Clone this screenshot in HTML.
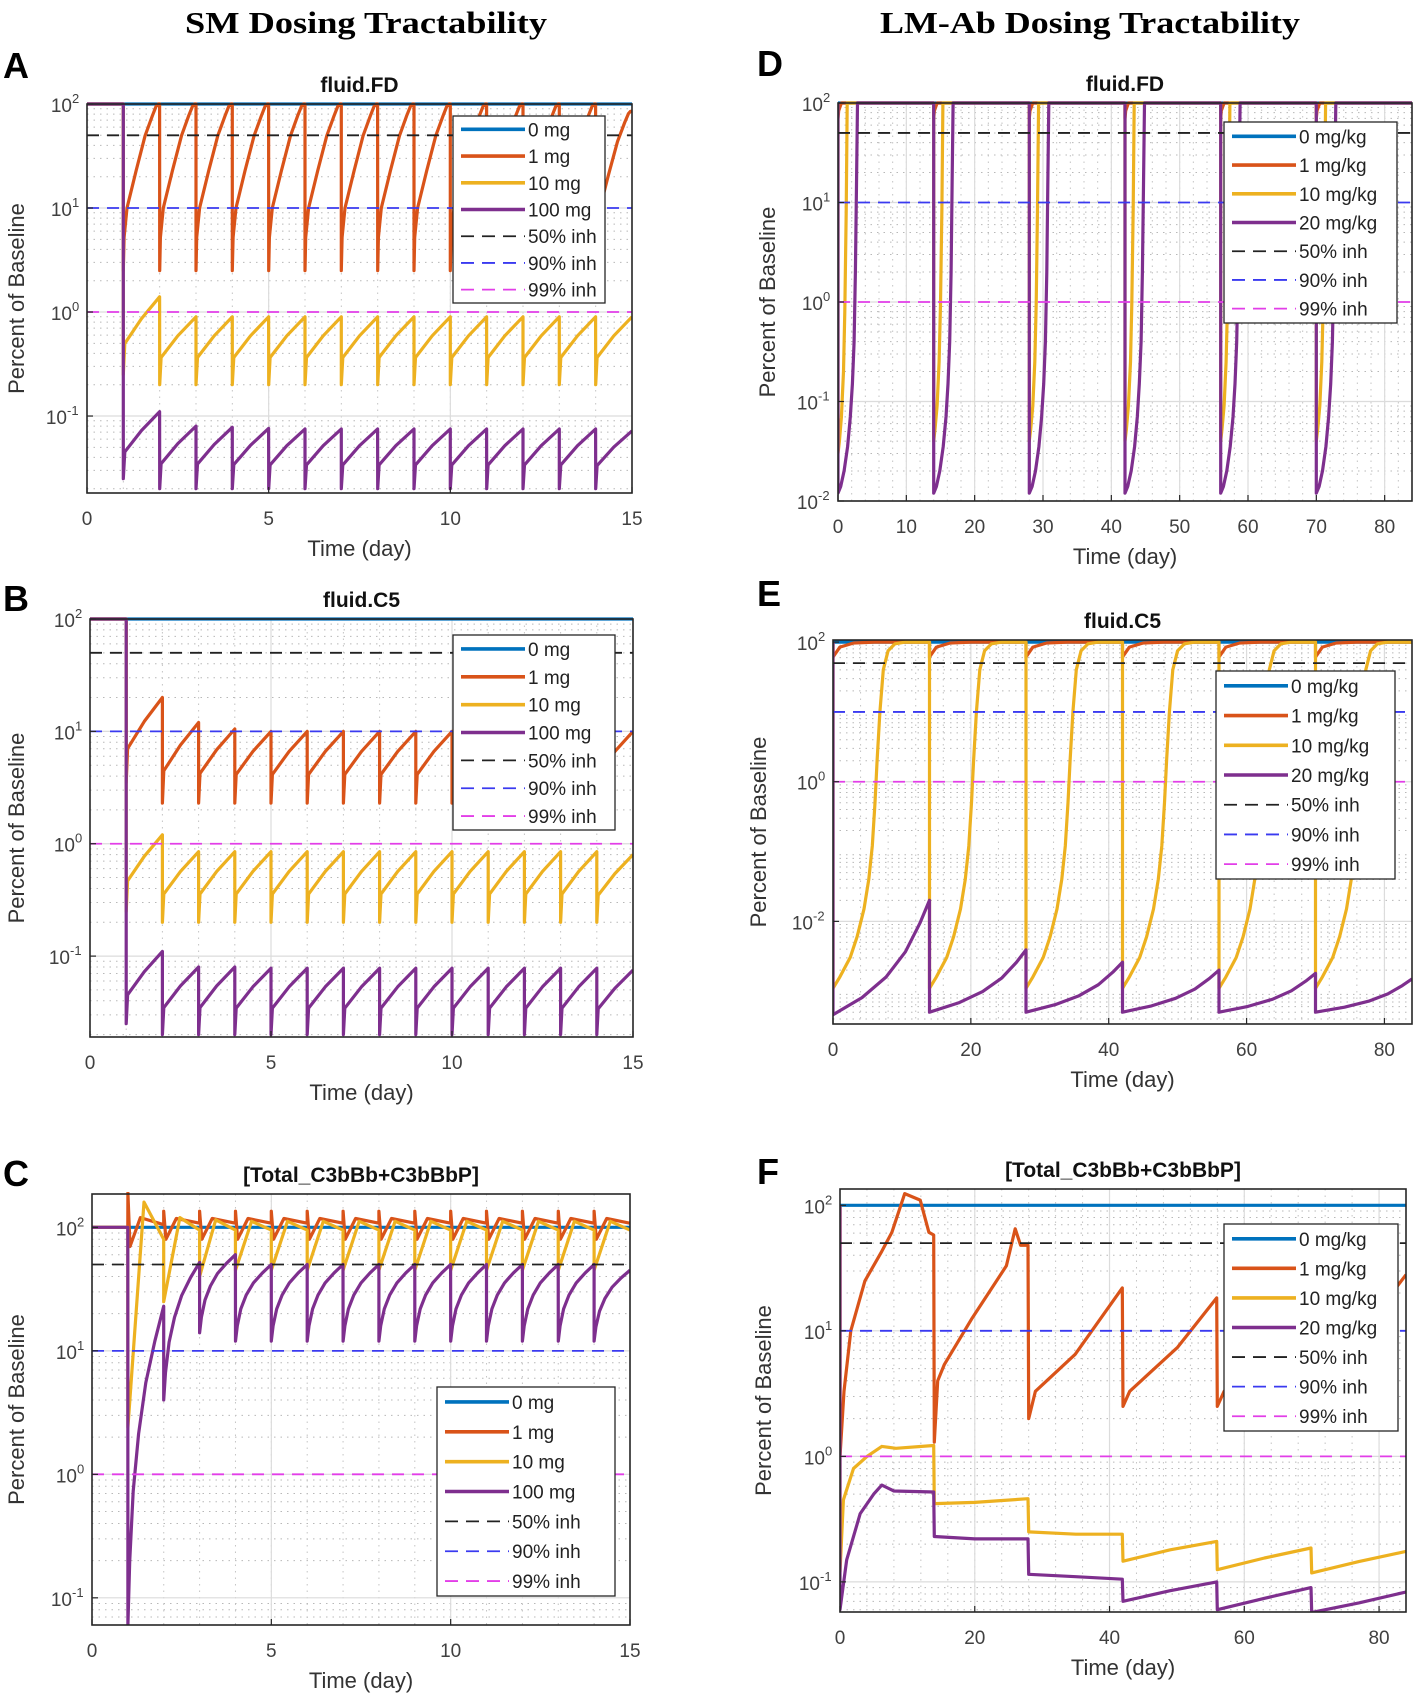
<!DOCTYPE html>
<html><head><meta charset="utf-8">
<style>
html,body{margin:0;padding:0;background:#fff;}
svg{display:block;}
text{font-family:"Liberation Sans",Arial,sans-serif;}
</style></head>
<body>
<svg id="fig" xmlns="http://www.w3.org/2000/svg" width="1422" height="1699" viewBox="0 0 1422 1699">
<rect x="0" y="0" width="1422" height="1699" fill="#fff"/>
<text x="366" y="33" text-anchor="middle" font-weight="bold" font-size="31" textLength="362" lengthAdjust="spacingAndGlyphs" style="font-family:'Liberation Serif',serif">SM Dosing Tractability</text>
<text x="1090" y="33" text-anchor="middle" font-weight="bold" font-size="31" textLength="420" lengthAdjust="spacingAndGlyphs" style="font-family:'Liberation Serif',serif">LM-Ab Dosing Tractability</text>
</svg>
<script>
// ---------- DATA ----------
const smDoses=[1,2,3,4,5,6,7,8,9,10,11,12,13,14];
const lmDoses=[0,14,28,42,56,70];
const smLegend=["0 mg","1 mg","10 mg","100 mg","50% inh","90% inh","99% inh"];
const lmLegend=["0 mg/kg","1 mg/kg","10 mg/kg","20 mg/kg","50% inh","90% inh","99% inh"];
const refLevels=[50,10,1];
// Panel A (fluid.FD, SM)
const a1Trough=[2.5,2.5,2.5,2.5,2.5,2.5,2.5,2.5,2.5,2.5,2.5,2.5,2.5,2.5];
const a1Peak=[100,100,100,100,100,100,100,100,100,100,100,100,100,85];
const a10Trough=[0.25,0.2,0.2,0.2,0.2,0.2,0.2,0.2,0.2,0.2,0.2,0.2,0.2,0.2];
const a10Peak=[1.4,0.9,0.9,0.9,0.9,0.9,0.9,0.9,0.9,0.9,0.9,0.9,0.9,0.9];
const a100Trough=[0.025,0.02,0.02,0.02,0.02,0.02,0.02,0.02,0.02,0.02,0.02,0.02,0.02,0.02];
const a100Peak=[0.11,0.08,0.078,0.076,0.075,0.075,0.075,0.075,0.075,0.075,0.075,0.075,0.075,0.072];
// Panel B (fluid.C5, SM)
const b1Trough=[3.5,2.3,2.3,2.3,2.3,2.3,2.3,2.3,2.3,2.3,2.3,2.3,2.3,2.3];
const b1Peak=[20,12,10.5,10,10,10,10,10,10,10,10,10,10,10];
const b10Trough=[0.25,0.2,0.2,0.2,0.2,0.2,0.2,0.2,0.2,0.2,0.2,0.2,0.2,0.2];
const b10Peak=[1.2,0.85,0.85,0.85,0.85,0.85,0.85,0.85,0.85,0.85,0.85,0.85,0.85,0.8];
const b100Trough=[0.025,0.02,0.02,0.02,0.02,0.02,0.02,0.02,0.02,0.02,0.02,0.02,0.02,0.02];
const b100Peak=[0.11,0.08,0.08,0.078,0.078,0.078,0.078,0.078,0.078,0.078,0.078,0.078,0.078,0.075];
// Panel C (Total C3bBb+C3bBbP, SM)
const c1Spike=[190,135,135,135,135,135,135,135,135,135,135,135,135,135];
const c1Dip=[70,80,80,80,80,80,80,80,80,80,80,80,80,80];
const c1Rec=[120,118,118,118,118,118,118,118,118,118,118,118,118,118];
const c1End=[105,108,108,108,108,108,108,108,108,108,108,108,108,108];
const c10Trough=[2.4,25,40,45,45,45,45,45,45,45,45,45,45,45];
const c10Peak=[160,120,115,112,112,112,112,112,112,112,112,112,112,112];
const c10End=[80,95,95,95,95,95,95,95,95,95,95,95,95,95];
const c100Trough=[0.06,4,14,12,12,12,12,12,12,12,12,12,12,12];
const c100Peak=[23,52,60,50,50,50,50,50,50,50,50,50,50,45];
// Panel D (fluid.FD, LM)
const d1Trough=[70,70,70,70,70,70];
const d10Trough=[0.03,0.04,0.04,0.04,0.04,0.04];
const d20Trough=[0.012,0.012,0.012,0.012,0.012,0.012];
// Panel E (fluid.C5, LM)
const e1Trough=[60,60,60,60,60,60];
const e10Trough=[0.0011,0.0011,0.0011,0.0011,0.0011,0.0011];
const e20Trough=[0.00046,0.0005,0.0005,0.0005,0.0005,0.0005];
const e20Peak=[0.02,0.0039,0.0026,0.002,0.0018,0.0015];
// Panel F (Total C3bBb+C3bBbP, LM)
const f1Time=[0,0,0.6,1.6,3.7,6.2,7.7,9.6,11.9,13.2,13.9,14,14.5,15.5,19.6,24.7,26,26.8,27.9,28,29,34.9,41.9,42,43,50.1,55.9,56,57,63,69.9,70,71,77,84];
const f1Val=[100,1,3.3,10,25,43,61,124,110,61,58,1.3,4,5.4,12.6,33,65,48,48,2,3.3,6.5,22,2.5,3.3,7.4,18.3,2.5,3.3,7.5,20,2.5,3.3,9,28];
const f10Time=[0,0,0.5,2,4,6.2,8.3,13.9,14,20,27.9,28,35,41.9,42,49,55.9,56,63,69.9,70,77,84];
const f10Val=[100,0.12,0.45,0.8,1.0,1.2,1.16,1.22,0.42,0.43,0.46,0.25,0.24,0.24,0.146,0.18,0.21,0.125,0.155,0.186,0.118,0.145,0.175];
const f20Time=[0,0,1,3,5,6.2,8,13.9,14,20,27.9,28,35,41.9,42,49,55.9,56,63,69.9,70,77,84];
const f20Val=[100,0.06,0.15,0.35,0.5,0.59,0.53,0.52,0.23,0.22,0.22,0.115,0.11,0.105,0.07,0.085,0.1,0.06,0.074,0.09,0.057,0.068,0.083];

// ---------- HELPERS ----------
const NS="http://www.w3.org/2000/svg";
const svg=document.getElementById('fig');
const COL={blue:"#0072BD",orange:"#D95319",yellow:"#EDB120",purple:"#7E2F8E"};
function mk(tag,attrs,parent){const e=document.createElementNS(NS,tag);for(const k in attrs)e.setAttribute(k,attrs[k]);(parent||svg).appendChild(e);return e;}
const L10=Math.log10;
function cyc(pts,doses,tEnd,lo,hi,offs,wts,absolute){
  for(let i=0;i<doses.length;i++){
    const d=doses[i],nx=(i+1<doses.length)?doses[i+1]:tEnd,per=nx-d;
    for(let k=0;k<offs.length;k++){
      let t=absolute?d+offs[k]:d+offs[k]*per;
      const v=Math.pow(10,L10(lo[i])+wts[k]*(L10(hi[i])-L10(lo[i])));
      if(t>=nx){pts.push([nx-0.001,v]);break;}
      pts.push([t,v]);
    }
    if(absolute){const last=pts[pts.length-1];if(last[0]<nx-0.002)pts.push([nx-0.001,last[1]]);}
  }
  return pts;
}
function multi(pts,doses,tEnd,fr,arrs){
  for(let i=0;i<doses.length;i++){
    const d=doses[i],nx=(i+1<doses.length)?doses[i+1]:tEnd;
    for(let k=0;k<fr.length;k++)pts.push([d+fr[k]*(nx-d),arrs[k][i]]);
  }
  return pts;
}
function zip(ts,vs){return ts.map((t,i)=>[t,vs[i]]);}

function panel(P){
  const g=mk('g',{});
  
  
  const xs=t=>P.L+(t-P.x0)/(P.x1-P.x0)*(P.R-P.L);
  const ys=v=>P.T+(P.ly1-L10(v))/(P.ly1-P.ly0)*(P.B-P.T);
  const cid='clip-'+P.id;
  const cp=mk('clipPath',{id:cid},g);mk('rect',{x:P.L,y:P.T-2,width:P.R-P.L,height:P.B-P.T+2},cp);
  const gridG=mk('g',{},g);
  
  
  for(let dec=Math.floor(P.ly0);dec<=Math.ceil(P.ly1);dec++){
    for(let m=2;m<=9;m++){const lv=dec+L10(m);if(lv<=P.ly0||lv>=P.ly1)continue;const y=ys(Math.pow(10,lv));
      mk('line',{x1:P.L,x2:P.R,y1:y,y2:y,stroke:"#b8b8b8","stroke-width":1,"stroke-dasharray":"1.5 5"},gridG);}
  }
  for(let t=P.x0+P.xminor;t<P.x1;t+=P.xminor){const x=xs(t);
    mk('line',{x1:x,x2:x,y1:P.T,y2:P.B,stroke:"#c4c4c4","stroke-width":1,"stroke-dasharray":"1.5 5"},gridG);}
  for(const yt of P.yticks){const y=ys(Math.pow(10,yt));mk('line',{x1:P.L,x2:P.R,y1:y,y2:y,stroke:"#dcdcdc","stroke-width":1.2},gridG);}
  for(const xt of P.xticks){const x=xs(xt);mk('line',{x1:x,x2:x,y1:P.T,y2:P.B,stroke:"#dcdcdc","stroke-width":1.2},gridG);}
  const sg=mk('g',{"clip-path":`url(#${cid})`},g);
  const refCols=["#222","#3a3af0","#e23ee8"];
  const cols=[COL.blue,COL.orange,COL.yellow,COL.purple];
  [0,1,2,3].forEach(si=>{const pts=P.series[si];if(!pts)return;
    const d=pts.map((p,i)=>(i?'L':'M')+xs(p[0]).toFixed(1)+' '+ys(Math.max(p[1],1e-6)).toFixed(1)).join(' ');
    const path=mk('path',{d:d,fill:"none",stroke:cols[si],"stroke-width":3.2,"stroke-linejoin":"round"},sg);
    
    
  });
  refLevels.forEach((lv,i)=>{const y=ys(lv);const l=mk('line',{x1:P.L,x2:P.R,y1:y,y2:y,stroke:refCols[i],"stroke-width":1.8,"stroke-dasharray":"12 8"},sg);
    
    });
  mk('rect',{x:P.L,y:P.T,width:P.R-P.L,height:P.B-P.T,fill:"none",stroke:"#262626","stroke-width":1.6},g);
  const tg=mk('g',{fill:"#404040","font-size":19},g);
  for(const xt of P.xticks.concat([P.x0])){const x=xs(xt);
    mk('line',{x1:x,x2:x,y1:P.B,y2:P.B-6,stroke:"#262626","stroke-width":1.2},tg);
    const t=mk('text',{x:x,y:P.B+32,"text-anchor":"middle"},tg);t.textContent=String(xt);
    
    }
  for(const yt of P.yticks){const y=ys(Math.pow(10,yt));
    mk('line',{x1:P.L,x2:P.L+6,y1:y,y2:y,stroke:"#262626","stroke-width":1.2},tg);
    const t=mk('text',{x:P.L-8-(yt<0?12:7),y:y+8,"text-anchor":"end"},tg);t.textContent="10";
    
    
    const s=mk('text',{x:P.L-8-(yt<0?12:7),y:y-1,"text-anchor":"start","font-size":13},tg);s.textContent=String(yt);}
  const ti=mk('text',{x:(P.L+P.R)/2,y:P.T-12,"text-anchor":"middle","font-weight":"bold","font-size":21,fill:"#111"},g);ti.textContent=P.title;
  
  
  const xl=mk('text',{x:(P.L+P.R)/2,y:P.B+63,"text-anchor":"middle","font-size":22,fill:"#333"},g);xl.textContent="Time (day)";
  
  
  const yl=mk('text',{x:0,y:0,"text-anchor":"middle","font-size":22,fill:"#333",transform:`translate(${P.ylx},${(P.T+P.B)/2}) rotate(-90)`},g);yl.textContent="Percent of Baseline";
  
  
  const lt=mk('text',{x:P.letter[0],y:P.letter[1],"font-weight":"bold","font-size":36,fill:"#000"},g);lt.textContent=P.id;
  
  
  const lg=mk('g',{},g);
  
  
  const [lx,ly,lw,lh]=P.leg;
  mk('rect',{x:lx,y:ly,width:lw,height:lh,fill:"#fff",stroke:"#262626","stroke-width":1.3},lg);
  const rowH=lh/7;
  const lcols=[COL.blue,COL.orange,COL.yellow,COL.purple,"#222","#3a3af0","#e23ee8"];
  P.legend.forEach((lab,i)=>{const y=ly+rowH*(i+0.5);
    const dash=i>=4?{"stroke-dasharray":"13 8","stroke-width":1.8}:{"stroke-width":3.6};
    mk('line',Object.assign({x1:lx+8,x2:lx+72,y1:y,y2:y,stroke:lcols[i]},dash),lg);
    const t=mk('text',{x:lx+75,y:y+7,"font-size":19,fill:"#222"},lg);t.textContent=lab;
    
    });
}

// ---------- SERIES ----------
const sawOrange={f:[0,0.02,0.1,0.35,0.6,0.8,0.9,0.96,1],w:[0,0.2,0.376,0.6,0.81,0.93,0.985,1,1]};
const saw={f:[0,0.04,0.5,1],w:[0,0.4,0.72,1]};
const pre=()=>[[0,100],[0.999,100]];
const A=[[[0,100],[15,100]],
 cyc(pre(),smDoses,15,a1Trough,a1Peak,sawOrange.f,sawOrange.w),
 cyc(pre(),smDoses,15,a10Trough,a10Peak,saw.f,saw.w),
 cyc(pre(),smDoses,15,a100Trough,a100Peak,saw.f,saw.w)];
const B=[[[0,100],[15,100]],
 cyc(pre(),smDoses,15,b1Trough,b1Peak,saw.f,saw.w),
 cyc(pre(),smDoses,15,b10Trough,b10Peak,saw.f,saw.w),
 cyc(pre(),smDoses,15,b100Trough,b100Peak,saw.f,saw.w)];
const C=[[[0,100],[15,100]],
 multi(pre(),smDoses,15,[0,0.06,0.35,0.999],[c1Spike,c1Dip,c1Rec,c1End]),
 multi(pre(),smDoses,15,[0,0.45,0.999],[c10Trough,c10Peak,c10End]),
 cyc(pre(),smDoses,15,c100Trough,c100Peak,[0,0.05,0.15,0.3,0.5,0.75,1],[0,0.2,0.42,0.6,0.76,0.89,1])];
const hundred6=[100,100,100,100,100,100];
const D=[[[0,100],[84,100]],
 cyc([[0,100]],lmDoses,84,d1Trough,hundred6,[0,0.1,0.5],[0,0.5,1],true),
 cyc([[0,100]],lmDoses,84,d10Trough,hundred6,[0,0.2,0.5,0.8,1.0,1.2,1.35],[0,0.035,0.104,0.234,0.405,0.689,1],true),
 cyc([[0,100]],lmDoses,84,d20Trough,hundred6,[0,0.4,0.9,1.4,1.8,2.1,2.35,2.55,2.7,2.85],[0,0.017,0.057,0.119,0.195,0.28,0.388,0.567,0.79,1],true)];
const E=[[[0,100],[84,100]],
 cyc([[0,100]],lmDoses,84,e1Trough,hundred6,[0,0.05,1,3,6],[0,0.064,0.68,0.94,1],true),
 cyc([[0,100]],lmDoses,84,e10Trough,hundred6,[0,1,2.5,3.5,4.5,5.2,5.7,6.1,6.4,6.8,7.3,8,9,10.5],[0,0.033,0.089,0.149,0.229,0.315,0.411,0.536,0.658,0.798,0.92,0.975,0.995,1],true),
 cyc([[0,100]],lmDoses,84,e20Trough,e20Peak,[0,0.3,0.55,0.75,0.9,1],[0,0.15,0.33,0.55,0.8,1])];
const F=[[[0,100],[84,100]],zip(f1Time,f1Val),zip(f10Time,f10Val),zip(f20Time,f20Val)];

// ---------- PANELS ----------
panel({id:"A",name:"panel-a-fluid-fd-sm",title:"fluid.FD",L:87,R:632,T:104,B:493,x0:0,x1:15,ly0:-1.74,ly1:2,
  xticks:[5,10,15],xminor:1,yticks:[2,1,0,-1],series:A,legend:smLegend,leg:[453,116,152,187],ylx:24,letter:[3,78]});
panel({id:"B",name:"panel-b-fluid-c5-sm",title:"fluid.C5",L:90,R:633,T:619,B:1037,x0:0,x1:15,ly0:-1.72,ly1:2,
  xticks:[5,10,15],xminor:1,yticks:[2,1,0,-1],series:B,legend:smLegend,leg:[453,635,162,195],ylx:24,letter:[3,611]});
panel({id:"C",name:"panel-c-c3bbb-sm",title:"[Total_C3bBb+C3bBbP]",L:92,R:630,T:1194,B:1625,x0:0,x1:15,ly0:-1.22,ly1:2.27,
  xticks:[5,10,15],xminor:1,yticks:[2,1,0,-1],series:C,legend:smLegend,leg:[437,1387,178,209],ylx:24,letter:[3,1186]});
panel({id:"D",name:"panel-d-fluid-fd-lm",title:"fluid.FD",L:838,R:1412,T:103,B:501,x0:0,x1:84,ly0:-2,ly1:2,
  xticks:[10,20,30,40,50,60,70,80],xminor:2,yticks:[2,1,0,-1,-2],series:D,legend:lmLegend,leg:[1224,122,173,201],ylx:775,letter:[757,76]});
panel({id:"E",name:"panel-e-fluid-c5-lm",title:"fluid.C5",L:833,R:1412,T:640,B:1024,x0:0,x1:84,ly0:-3.47,ly1:2.03,
  xticks:[20,40,60,80],xminor:4,yticks:[2,0,-2],series:E,legend:lmLegend,leg:[1216,671,179,208],ylx:766,letter:[757,606]});
panel({id:"F",name:"panel-f-c3bbb-lm",title:"[Total_C3bBb+C3bBbP]",L:840,R:1406,T:1189,B:1612,x0:0,x1:84,ly0:-1.24,ly1:2.13,
  xticks:[20,40,60,80],xminor:4,yticks:[2,1,0,-1],series:F,legend:lmLegend,leg:[1224,1224,174,207],ylx:771,letter:[757,1184]});
</script>
</body></html>
